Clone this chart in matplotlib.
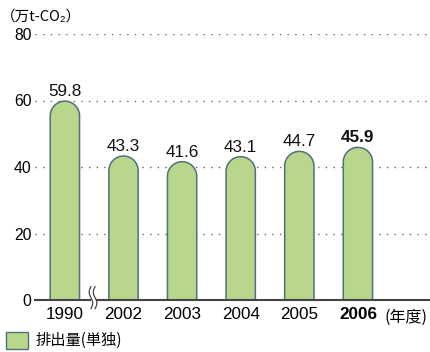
import numpy as np
import matplotlib
matplotlib.use("Agg")
import matplotlib.pyplot as plt
from matplotlib.path import Path
from matplotlib.patches import PathPatch, Rectangle

years = ["1990", "2002", "2003", "2004", "2005", "2006"]
values = [59.8, 43.3, 41.6, 43.1, 44.7, 45.9]
value_labels = ["59.8", "43.3", "41.6", "43.1", "44.7", "45.9"]
yticks = [0, 20, 40, 60, 80]
unit_label = "（万t-CO₂）"
year_suffix = "(年度)"
legend_label = "排出量(単独)"

FILL = "#b9d68d"
EDGE = "#53707a"
FAM = ["Liberation Sans", "Noto Sans CJK JP", "DejaVu Sans"]
JFAM = ["Noto Sans CJK JP", "Liberation Sans", "DejaVu Sans"]

W, H = 430, 352
fig = plt.figure(figsize=(W / 100, H / 100), dpi=100)
ax = fig.add_axes([35 / W, 52 / H, 1 - 35 / W, (300 - 34) / H])
ax.set_ylim(0, 80)
ax.set_xlim(-0.51, 6.23)

# dotted gridlines
for t in yticks[1:]:
    ax.axhline(t, color="#666666", lw=1.0, ls=(0, (1, 4.5)), zorder=1)

# rounded bars
x = np.arange(len(values))
bw = 0.5
px_per_x = (W - 35) / (6.23 + 0.51)
px_per_y = (300 - 34) / 80.0
rx = bw / 2
ry = rx * px_per_x / px_per_y
for xi, v in zip(x, values):
    theta = np.linspace(np.pi, 0, 40)
    arc_x = xi + rx * np.cos(theta)
    arc_y = (v - ry) + ry * np.sin(theta)
    vx = np.concatenate([[xi - rx], arc_x, [xi + rx]])
    vy = np.concatenate([[0], arc_y, [0]])
    verts = np.column_stack([vx, vy])
    patch = PathPatch(Path(verts), facecolor=FILL, edgecolor=EDGE, lw=1.1, zorder=3)
    ax.add_patch(patch)

# value labels
for i, (xi, v, lab) in enumerate(zip(x, values, value_labels)):
    ax.annotate(lab, (xi, v), xytext=(0, 1.5), textcoords="offset points",
                ha="center", va="bottom", fontsize=12.3, family=FAM,
                fontweight="bold" if i == len(values) - 1 else "normal",
                color="#111111", zorder=5)

for s in ["top", "right", "left", "bottom"]:
    ax.spines[s].set_visible(False)
# baseline with break
ax.plot([-0.51, 0.43], [0, 0], color="#444444", lw=1.5, clip_on=False, zorder=4)
ax.plot([0.55, 6.23], [0, 0], color="#444444", lw=1.5, clip_on=False, zorder=4)

# break mark (two wavy lines)
t = np.linspace(0, 1, 30)
for off in (0.445, 0.515):
    bx = off + 0.03 * np.sin(t * 2 * np.pi)
    by = -2.6 + 6.6 * t
    ax.plot(bx, by, color="#444444", lw=0.9, clip_on=False, zorder=5)

ax.set_yticks(yticks)
ax.set_yticklabels([str(t) for t in yticks], family=FAM, fontsize=11.3)
ax.tick_params(axis="y", length=0, pad=2.5)
ax.set_xticks(x)
ax.set_xticklabels(years, family=FAM, fontsize=12.3)
ax.tick_params(axis="x", length=0, pad=5)
ax.get_xticklabels()[-1].set_fontweight("bold")

fig.text(1 / W, 1 - 17 / H, unit_label, family=JFAM, fontsize=10.5, va="center", ha="left")
fig.text(427 / W, 1 - 317 / H, year_suffix, family=JFAM, fontsize=11.5, va="center", ha="right")

# legend
fig.patches.append(Rectangle((6 / W, 1 - 349 / H), 22 / W, 17 / H, transform=fig.transFigure,
                             facecolor=FILL, edgecolor=EDGE, lw=1.0))
fig.text(36 / W, 1 - 340 / H, legend_label, family=JFAM, fontsize=11, va="center", ha="left")

fig.savefig("out.png", dpi=100)
